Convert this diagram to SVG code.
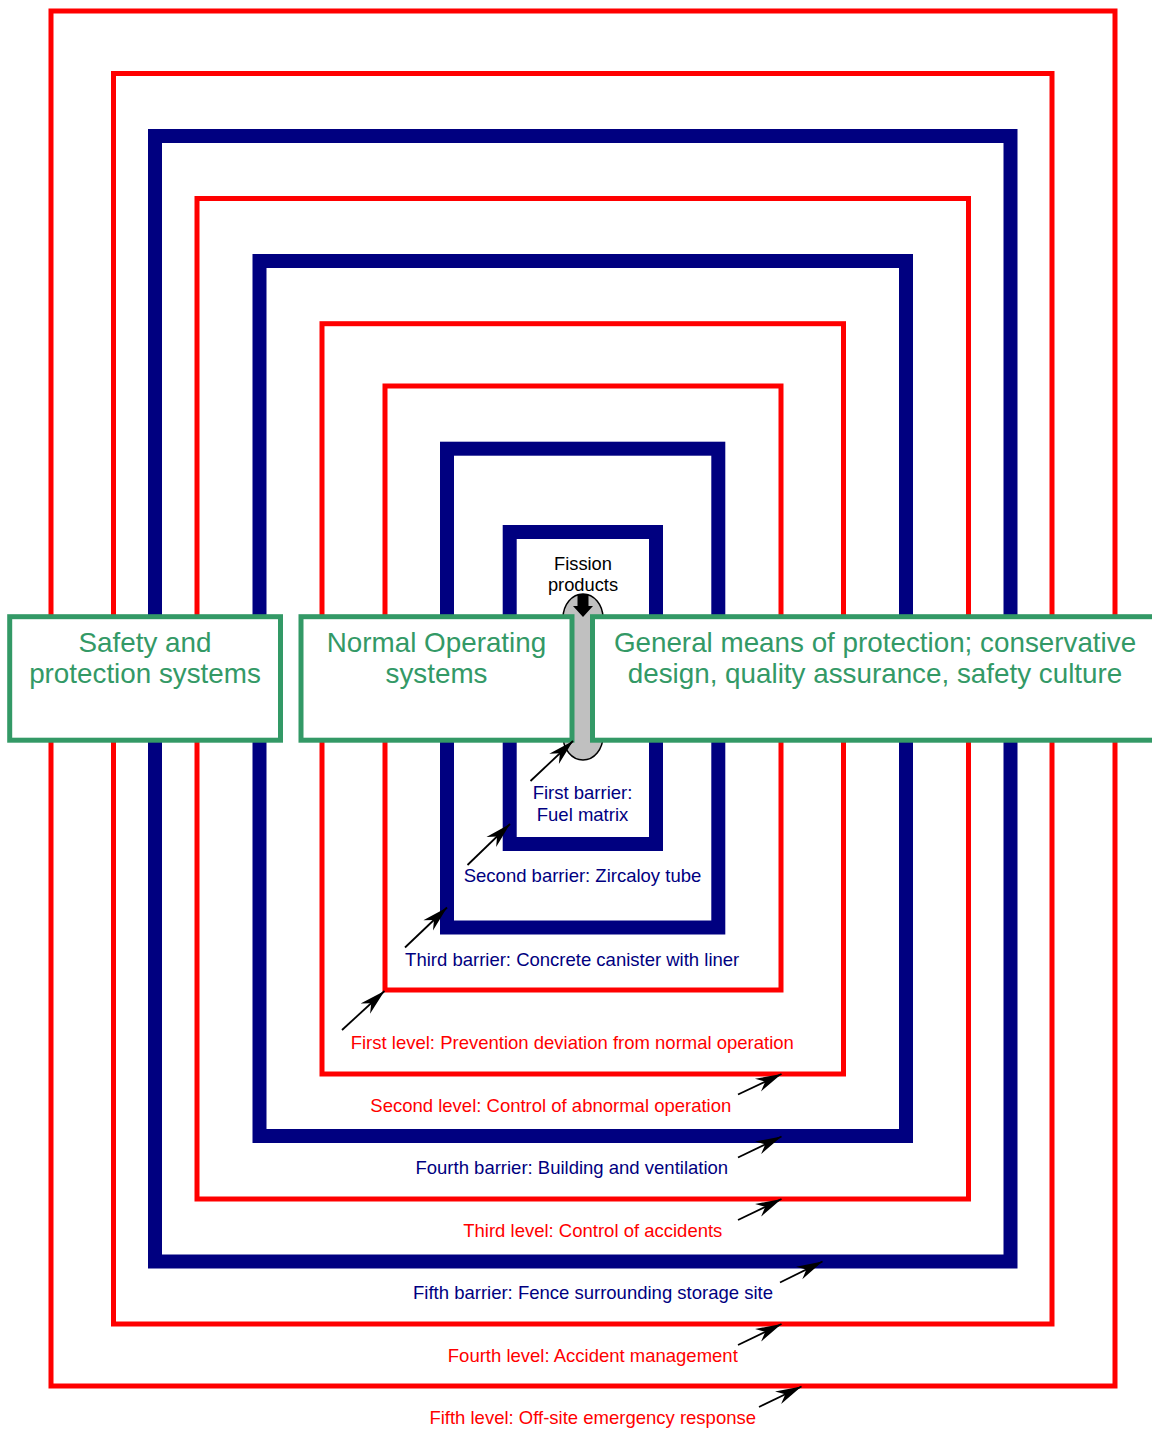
<svg xmlns="http://www.w3.org/2000/svg" width="1152" height="1430" viewBox="0 0 1152 1430">
<style>
.red{fill:none;stroke:#FF0000;stroke-width:5}
.blue{fill:none;stroke:#000080;stroke-width:14}
.box{fill:#FFFFFF;stroke:#339966;stroke-width:5}
.bt{font-family:"Liberation Sans",Arial,sans-serif;font-size:27.8px;fill:#339966;text-anchor:middle}
.lb{font-family:"Liberation Sans",Arial,sans-serif;font-size:18.5px;fill:#000080;text-anchor:middle}
.lr{font-family:"Liberation Sans",Arial,sans-serif;font-size:18.5px;fill:#FF0000;text-anchor:middle}
.lk{font-family:"Liberation Sans",Arial,sans-serif;font-size:18.3px;fill:#000000;text-anchor:middle}
.ar{fill:none;stroke:#000000;stroke-width:1.8;marker-end:url(#ah)}
</style>
<defs>
<marker id="ah" viewBox="-27 -8 28 16" markerWidth="28" markerHeight="16" refX="0" refY="0" orient="auto" markerUnits="userSpaceOnUse">
<path d="M0,0 L-26,-7 L-18,0 L-26,7 Z" fill="#000000"/>
</marker>
</defs>
<rect width="1152" height="1430" fill="#FFFFFF"/>
<g id="layers">
<rect id="level5" class="red" x="51" y="11" width="1064" height="1375"/>
<rect id="level4" class="red" x="113.5" y="73.5" width="938.5" height="1250.5"/>
<rect id="barrier5" class="blue" x="155" y="136" width="855.5" height="1125.5"/>
<rect id="level3" class="red" x="197" y="198.5" width="771.5" height="1000.5"/>
<rect id="barrier4" class="blue" x="259.5" y="261" width="646.5" height="875"/>
<rect id="level2" class="red" x="322" y="323.7" width="521.5" height="750.3"/>
<rect id="level1" class="red" x="385" y="386" width="396" height="604"/>
<rect id="barrier3" class="blue" x="447" y="448.7" width="271.3" height="478.8"/>
<rect id="barrier2" class="blue" x="509.7" y="532" width="146.3" height="312"/>
</g>
<g id="fission">
<rect x="563" y="594" width="40" height="166" rx="20" ry="24" fill="#C0C0C0" stroke="#000000" stroke-width="1.5"/>
<text class="lk" x="583" y="570">Fission</text>
<text class="lk" x="583" y="591">products</text>
<polygon points="577.5,594 588.5,594 588.5,606 593,606 583,617 573,606 577.5,606" fill="#000000"/>
</g>
<g id="box-safety">
<rect class="box" x="9.7" y="616.7" width="270.8" height="123.5"/>
<text class="bt" x="145" y="652">Safety and</text>
<text class="bt" x="145" y="683">protection systems</text>
</g>
<g id="box-normal">
<rect class="box" x="301" y="616.7" width="271" height="123.5"/>
<text class="bt" x="436.5" y="652">Normal Operating</text>
<text class="bt" x="436.5" y="683">systems</text>
</g>
<g id="box-general">
<rect class="box" x="592.5" y="616.7" width="565" height="123.5"/>
<text class="bt" x="875" y="652">General means of protection; conservative</text>
<text class="bt" x="875" y="683">design, quality assurance, safety culture</text>
</g>
<g id="labels">
<text class="lb" x="582.5" y="799.3">First barrier:</text>
<text class="lb" x="582.5" y="820.7">Fuel matrix</text>
<text class="lb" x="582.5" y="882.3">Second barrier: Zircaloy tube</text>
<text class="lb" x="572.2" y="966">Third barrier: Concrete canister with liner</text>
<text class="lr" x="572.3" y="1049.3">First level: Prevention deviation from normal operation</text>
<text class="lr" x="550.8" y="1112.3">Second level: Control of abnormal operation</text>
<text class="lb" x="571.8" y="1174.3">Fourth barrier: Building and ventilation</text>
<text class="lr" x="592.8" y="1236.7">Third level: Control of accidents</text>
<text class="lb" x="593" y="1299">Fifth barrier: Fence surrounding storage site</text>
<text class="lr" x="592.8" y="1361.7">Fourth level: Accident management</text>
<text class="lr" x="592.7" y="1424">Fifth level: Off-site emergency response</text>
</g>
<g id="connectors">
<path class="ar" d="M530.5,781 L573,741"/>
<path class="ar" d="M467.5,865 L510,824"/>
<path class="ar" d="M405,947.5 L447,907.5"/>
<path class="ar" d="M342,1030 L384.5,991"/>
<path class="ar" d="M738,1094.5 L781.5,1074"/>
<path class="ar" d="M738,1157.5 L781.5,1136.5"/>
<path class="ar" d="M738,1220 L781.5,1199"/>
<path class="ar" d="M780,1282.5 L822.5,1261.5"/>
<path class="ar" d="M738,1345 L781.5,1324"/>
<path class="ar" d="M759,1407 L801.5,1386.5"/>
</g>
</svg>
